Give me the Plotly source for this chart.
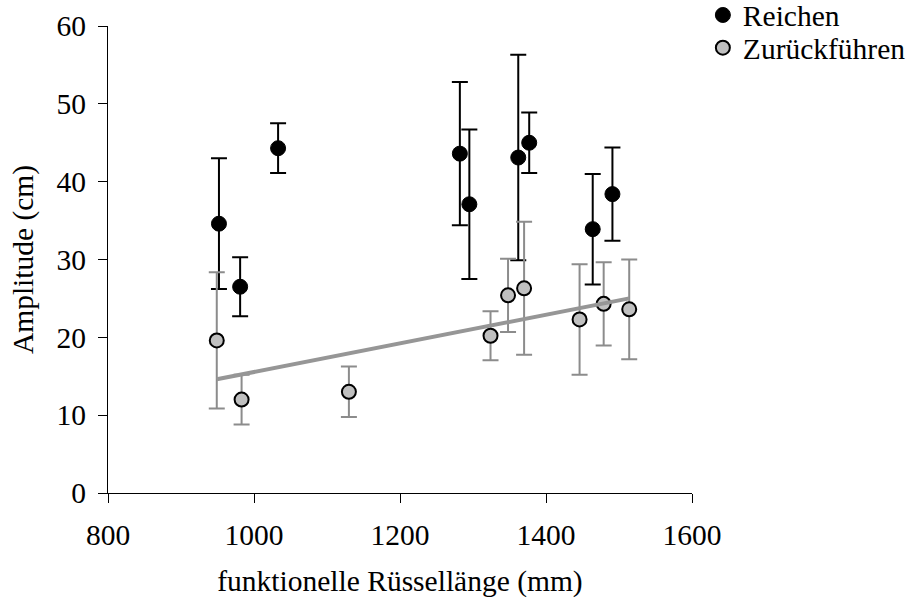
import numpy as np
import plotly.graph_objects as go

# Data
reichen_x = [952, 981, 1033, 1282, 1295, 1362, 1377, 1464, 1491]
reichen_y = [34.6, 26.5, 44.3, 43.6, 37.1, 43.1, 45.0, 33.9, 38.4]
reichen_err = [8.4, 3.8, 3.2, 9.2, 9.6, 13.2, 3.9, 7.1, 6.0]

zurueck_x = [949, 983, 1130, 1324, 1348, 1370, 1446, 1479, 1514]
zurueck_y = [19.6, 12.0, 13.0, 20.2, 25.4, 26.3, 22.3, 24.3, 23.6]
zurueck_err = [8.75, 3.2, 3.25, 3.15, 4.7, 8.55, 7.1, 5.35, 6.4]

x_ticks = [800, 1000, 1200, 1400, 1600]
y_ticks = [0, 10, 20, 30, 40, 50, 60]

FONT = "Liberation Serif, Times New Roman, serif"
FS = 29.5

fig = go.Figure()

fig.add_trace(go.Scatter(
    x=reichen_x, y=reichen_y, mode="markers", name="Reichen", legend="legend",
    marker=dict(color="black", size=15, line=dict(color="black", width=1)),
    error_y=dict(type="data", array=reichen_err, visible=True,
                 color="black", thickness=2, width=8),
))

fig.add_trace(go.Scatter(
    x=zurueck_x, y=zurueck_y, mode="markers", name="Zurückführen", legend="legend2",
    marker=dict(color="#c0c0c0", size=14, line=dict(color="black", width=2)),
    error_y=dict(type="data", array=zurueck_err, visible=True,
                 color="#8c8c8c", thickness=2, width=8),
))

# Linear trendline (least squares) for Zurückführen
coef = np.polyfit(zurueck_x, zurueck_y, 1)
tx = np.array([min(zurueck_x), max(zurueck_x)])
fig.add_trace(go.Scatter(
    x=tx, y=np.polyval(coef, tx), mode="lines", showlegend=False,
    line=dict(color="#969696", width=4), hoverinfo="skip",
))

axis_common = dict(
    showline=True, linecolor="black", linewidth=1.3, mirror=False,
    ticks="outside", ticklen=9, tickwidth=1.3, tickcolor="black",
    showgrid=False, zeroline=False,
    tickfont=dict(family=FONT, size=FS, color="black"),
)

legend_common = dict(xanchor="left", yanchor="top",
                     font=dict(family=FONT, size=FS, color="black"),
                     bgcolor="rgba(0,0,0,0)", itemwidth=30)

fig.update_layout(
    width=915, height=607,
    margin=dict(l=108, r=223, t=26, b=114, autoexpand=False),
    plot_bgcolor="white", paper_bgcolor="white",
    font=dict(family=FONT, size=FS, color="black"),
    xaxis=dict(range=[800, 1600], tickvals=x_ticks, ticktext=[str(v) for v in x_ticks],
               title=dict(text="funktionelle Rüssellänge (mm)",
                          font=dict(family=FONT, size=FS, color="black"), standoff=20),
               ticklabelstandoff=6,
               **axis_common),
    yaxis=dict(range=[0, 60], tickvals=y_ticks, ticktext=[str(v) for v in y_ticks],
               title=dict(text="Amplitude (cm)",
                          font=dict(family=FONT, size=FS, color="black"), standoff=14),
               ticklabelstandoff=6,
               **axis_common),
    legend=dict(x=1.0186, y=1.0786, **legend_common),
    legend2=dict(x=1.0186, y=1.0086, **legend_common),
    showlegend=True,
)

fig.write_html("out.html")
